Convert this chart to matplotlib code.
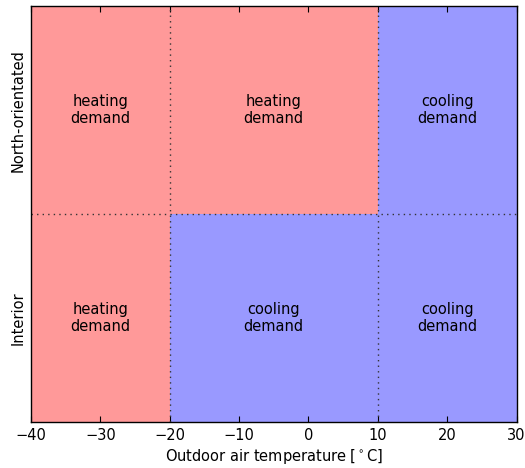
import numpy as np
import matplotlib.pyplot as plt

# Temperature ranges (degC) where each zone needs heating or cooling
t_min, t_max = -40, 30
rows = ['Interior', 'North-orientated']
heating_upper = [-20, 10]   # heating below this temperature, cooling above
cell_centres = [-30, -5, 20]
cell_texts = [['heating\ndemand', 'cooling\ndemand', 'cooling\ndemand'],
              ['heating\ndemand', 'heating\ndemand', 'cooling\ndemand']]
xticks = np.arange(-40, 31, 10)

red = '#ff9999'
blue = '#9999ff'

fig = plt.figure(figsize=(5.25, 4.68), dpi=100)
ax = fig.add_axes([0.059, 0.098, 0.925, 0.889])

for i, (name, limit) in enumerate(zip(rows, heating_upper)):
    ax.fill_between([t_min, limit], i, i + 1, color=red, lw=0)
    ax.fill_between([limit, t_max], i, i + 1, color=blue, lw=0)
    for xc, txt in zip(cell_centres, cell_texts[i]):
        ax.text(xc, i + 0.5, txt, ha='center', va='center', fontsize=10.5)
    ax.text(-0.027, (i + 0.5) / len(rows), name, rotation=90,
            ha='center', va='center', fontsize=10.5,
            transform=ax.transAxes)

for limit in heating_upper:
    ax.axvline(limit, color='#333333', lw=1, dashes=(1, 3))
ax.axhline(1, color='#333333', lw=1, dashes=(1, 3))

ax.set_xlim(t_min, t_max)
ax.set_ylim(0, len(rows))
ax.set_xticks(xticks)
ax.set_yticks([])
ax.tick_params(axis='x', direction='in', top=True, length=4, labelsize=10.5, pad=4)
ax.set_xlabel(r'Outdoor air temperature [$^\circ$C]', fontsize=10.5, labelpad=3)
for s in ax.spines.values():
    s.set_linewidth(1)

fig.savefig('out.png', dpi=100)
